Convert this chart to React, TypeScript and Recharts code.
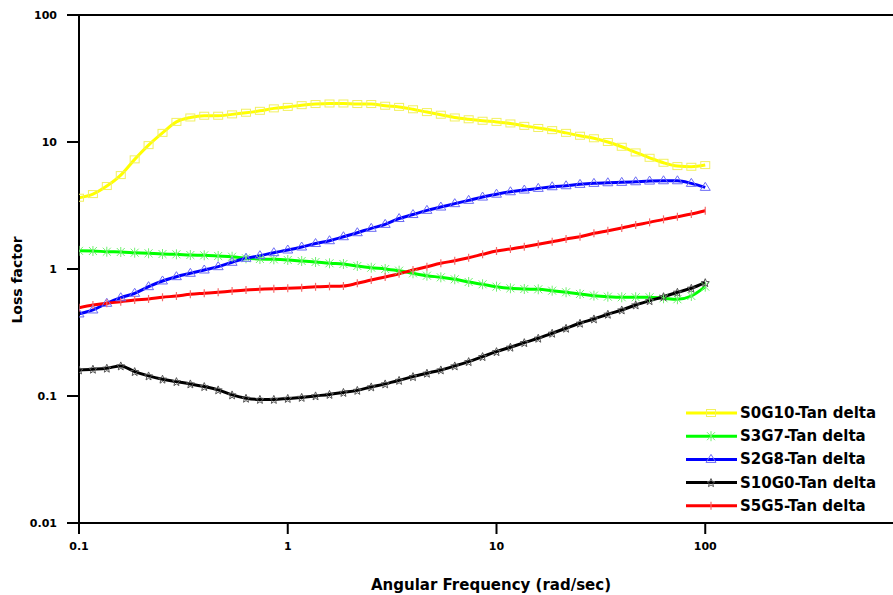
import React from "react";
import {
  LineChart,
  Line,
  XAxis,
  YAxis,
  Legend,
  Label,
  ReferenceLine,
} from "recharts";

// angular frequency, 15 points per decade
const freq = [
  0.1, 0.1166, 0.1359, 0.1585, 0.1848, 0.2154, 0.2512, 0.2929, 0.3415, 0.3981,
  0.4642, 0.5412, 0.631, 0.7356, 0.8577, 1, 1.166, 1.359, 1.585, 1.848, 2.154,
  2.512, 2.929, 3.415, 3.981, 4.642, 5.412, 6.31, 7.356, 8.577, 10, 11.66,
  13.59, 15.85, 18.48, 21.54, 25.12, 29.29, 34.15, 39.81, 46.42, 54.12, 63.1,
  73.56, 85.77, 100,
];

const s0g10 = [
  3.64, 3.89, 4.5, 5.49, 7.3, 9.45, 11.8, 14.4, 15.6, 16.1, 16.1, 16.5, 17.0,
  17.6, 18.4, 18.9, 19.5, 19.9, 20.1, 20.1, 19.9, 19.9, 19.3, 18.9, 18.1, 17.2,
  16.4, 15.6, 15.1, 14.7, 14.4, 14.0, 13.4, 12.9, 12.4, 11.8, 11.2, 10.7, 10.0,
  9.17, 8.28, 7.51, 6.86, 6.46, 6.38, 6.58,
];

const s3g7 = [
  1.39, 1.386, 1.368, 1.361, 1.344, 1.329, 1.312, 1.305, 1.288, 1.282, 1.266,
  1.249, 1.214, 1.199, 1.192, 1.177, 1.156, 1.135, 1.109, 1.095, 1.056, 1.024,
  1.0, 0.97, 0.925, 0.886, 0.86, 0.83, 0.79, 0.758, 0.726, 0.705, 0.696, 0.692,
  0.675, 0.656, 0.636, 0.617, 0.605, 0.599, 0.599, 0.599, 0.588, 0.578, 0.613,
  0.726,
];

const s2g8 = [
  0.443, 0.476, 0.537, 0.594, 0.644, 0.726, 0.805, 0.87, 0.925, 0.982, 1.043,
  1.129, 1.214, 1.273, 1.344, 1.411, 1.49, 1.587, 1.67, 1.795, 1.93, 2.09,
  2.247, 2.497, 2.684, 2.896, 3.075, 3.27, 3.472, 3.686, 3.884, 4.057, 4.184,
  4.314, 4.442, 4.523, 4.639, 4.724, 4.775, 4.81, 4.862, 4.924, 4.951, 4.951,
  4.724, 4.394,
];

const s10g0 = [
  0.1604, 0.1625, 0.1655, 0.1725, 0.1556, 0.1439, 0.1356, 0.1298, 0.1245,
  0.1186, 0.1117, 0.102, 0.096, 0.094, 0.094, 0.0957, 0.0975, 0.1002, 0.1029,
  0.1067, 0.1107, 0.1179, 0.1245, 0.1327, 0.1421, 0.1511, 0.1604, 0.1725,
  0.1865, 0.2042, 0.2235, 0.2421, 0.2631, 0.285, 0.3119, 0.3415, 0.3739,
  0.4043, 0.4401, 0.4757, 0.5208, 0.5629, 0.6053, 0.6558, 0.7051, 0.7803,
];

const s5g5 = [
  0.496, 0.521, 0.537, 0.553, 0.57, 0.581, 0.599, 0.613, 0.632, 0.644, 0.656,
  0.671, 0.684, 0.692, 0.7, 0.705, 0.713, 0.724, 0.73, 0.735, 0.772, 0.819,
  0.865, 0.918, 0.982, 1.043, 1.109, 1.162, 1.227, 1.305, 1.386, 1.437, 1.498,
  1.564, 1.64, 1.722, 1.795, 1.909, 2.001, 2.102, 2.219, 2.33, 2.46, 2.579,
  2.708, 2.875,
];

const xTicks = [0.1, 1, 10, 100];
const yTicks = [0.01, 0.1, 1, 10, 100];

const data = freq.map((f, i) => ({
  freq: f,
  s0g10: s0g10[i],
  s3g7: s3g7[i],
  s2g8: s2g8[i],
  s10g0: s10g0[i],
  s5g5: s5g5[i],
}));

const FONT = "'DejaVu Sans', Arial, sans-serif";

type Shape = "square" | "asterisk" | "triangle" | "star" | "plus";

const markerPath = (shape: Shape, cx: number, cy: number, color: string) => {
  switch (shape) {
    case "square":
      return (
        <rect x={cx - 4.5} y={cy - 3.5} width={9} height={7} fill="none" stroke={color} strokeWidth={1} />
      );
    case "asterisk":
      return (
        <path
          d={`M${cx - 4},${cy - 4}L${cx + 4},${cy + 4}M${cx - 4},${cy + 4}L${cx + 4},${cy - 4}M${cx},${cy - 5}L${cx},${cy + 5}`}
          stroke={color}
          strokeWidth={1}
          fill="none"
        />
      );
    case "triangle":
      return (
        <path
          d={`M${cx},${cy - 5}L${cx + 5},${cy + 3}L${cx - 5},${cy + 3}Z`}
          stroke={color}
          strokeWidth={1}
          fill="none"
        />
      );
    case "star":
      return (
        <path
          d={`M${cx},${cy - 4}L${cx + 1.2},${cy - 1.2}L${cx + 4},${cy - 1}L${cx + 1.8},${cy + 1}L${cx + 2.5},${cy + 4}L${cx},${cy + 2.3}L${cx - 2.5},${cy + 4}L${cx - 1.8},${cy + 1}L${cx - 4},${cy - 1}L${cx - 1.2},${cy - 1.2}Z`}
          stroke={color}
          strokeWidth={1}
          fill="none"
        />
      );
    default:
      return (
        <path d={`M${cx},${cy - 4}L${cx},${cy + 4}`} stroke={color} strokeWidth={1.2} fill="none" />
      );
  }
};

const series = [
  { key: "s0g10", name: "S0G10-Tan delta", color: "#FFFF00", mark: "#F2F060", shape: "square" as Shape },
  { key: "s3g7", name: "S3G7-Tan delta", color: "#00FF00", mark: "#70F070", shape: "asterisk" as Shape },
  { key: "s2g8", name: "S2G8-Tan delta", color: "#0000FF", mark: "#6A6AF5", shape: "triangle" as Shape },
  { key: "s10g0", name: "S10G0-Tan delta", color: "#000000", mark: "#555555", shape: "star" as Shape },
  { key: "s5g5", name: "S5G5-Tan delta", color: "#FF0000", mark: "#F56A6A", shape: "plus" as Shape },
];

const makeDot = (shape: Shape, color: string) => (props: any) => {
  const { cx, cy, index } = props;
  if (cx == null || cy == null) return <g key={`d${index}`} />;
  return <g key={`d${index}`}>{markerPath(shape, cx, cy, color)}</g>;
};

const LegendBox = () => (
  <svg width={207} height={118}>
    {series.map((s, i) => {
      const y = 11 + i * 23.2;
      return (
        <g key={s.key}>
          <line x1={0} x2={51} y1={y} y2={y} stroke={s.color} strokeWidth={3} />
          {markerPath(s.shape, 25, y, s.mark)}
          <text
            x={54}
            y={y}
            dominantBaseline="central"
            fontFamily={FONT}
            fontWeight="bold"
            fontSize={15}
            fill="#000"
          >
            {s.name}
          </text>
        </g>
      );
    })}
  </svg>
);

const tickStyle = { fill: "#000", fontSize: 11, fontWeight: "bold", fontFamily: FONT };

export default function App() {
  return (
    <div
      style={{
        position: "absolute",
        left: 0,
        top: 0,
        width: 893,
        height: 595,
        overflow: "hidden",
        background: "#fff",
      }}
    >
      <LineChart
        width={920}
        height={595}
        data={data}
        margin={{ top: 15, right: 6, bottom: 0, left: 0 }}
      >
        <XAxis
          dataKey="freq"
          type="number"
          scale="log"
          domain={[0.1, 1000]}
          ticks={xTicks}
          allowDataOverflow
          height={72}
          tickSize={11}
          tickMargin={8}
          tick={tickStyle}
          axisLine={{ stroke: "#000", strokeWidth: 2 }}
          tickLine={{ stroke: "#000", strokeWidth: 2 }}
        >
          <Label
            content={() => (
              <text
                x={491}
                y={585}
                textAnchor="middle"
                dominantBaseline="central"
                fontFamily={FONT}
                fontWeight="bold"
                fontSize={15}
                fill="#000"
              >
                Angular Frequency (rad/sec)
              </text>
            )}
          />
        </XAxis>
        <YAxis
          type="number"
          scale="log"
          domain={[0.01, 100]}
          ticks={yTicks}
          allowDataOverflow
          width={79}
          tickSize={12}
          tickMargin={10}
          tick={tickStyle}
          axisLine={{ stroke: "#000", strokeWidth: 2 }}
          tickLine={{ stroke: "#000", strokeWidth: 2 }}
        >
          <Label
            content={() => (
              <text
                x={17}
                y={280}
                transform="rotate(-90 17 280)"
                textAnchor="middle"
                dominantBaseline="central"
                fontFamily={FONT}
                fontWeight="bold"
                fontSize={14}
                fill="#000"
              >
                Loss factor
              </text>
            )}
          />
        </YAxis>
        <ReferenceLine y={100} stroke="#000" strokeWidth={2} />
        <Legend
          layout="vertical"
          align="center"
          verticalAlign="middle"
          content={() => <LegendBox />}
          wrapperStyle={{ left: 686, top: 402, width: 207, height: 118 }}
        />
        {series.map((s) => (
          <Line
            key={s.key}
            type="monotone"
            dataKey={s.key}
            name={s.name}
            stroke={s.color}
            strokeWidth={3}
            dot={makeDot(s.shape, s.mark)}
            activeDot={false}
            isAnimationActive={false}
          />
        ))}
      </LineChart>
    </div>
  );
}
